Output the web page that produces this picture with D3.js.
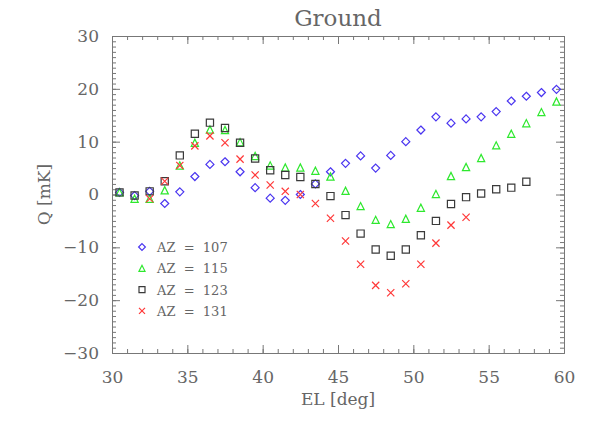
<!DOCTYPE html>
<html>
<head>
<meta charset="utf-8">
<script src="https://cdn.jsdelivr.net/npm/d3@7"></script>
<style>
  body { margin: 0; background: #fff; }
  text { font-family: "DejaVu Serif", serif; fill: #666; }
</style>
</head>
<body>
<div id="chart-area"></div>
<script>
// elevation of each sample [deg]
const EL = [30.5, 31.5, 32.5, 33.5, 34.5, 35.5, 36.5, 37.5, 38.5, 39.5,
  40.5, 41.5, 42.5, 43.5, 44.5, 45.5, 46.5, 47.5, 48.5, 49.5,
  50.5, 51.5, 52.5, 53.5, 54.5, 55.5, 56.5, 57.5, 58.5, 59.5]

// Q [mK] per azimuth, null = no point
const AZ107 = [0.4, -0.2, 0.6, -1.7, 0.5, 3.4, 5.7, 6.2, 4.3, 1.3,
  -0.7, -1.1, 0.0, 2.0, 4.3, 5.9, 7.3, 5.0, 7.4, 10.0,
  12.2, 14.7, 13.5, 14.3, 14.7, 15.7, 17.7, 18.6, 19.3, 19.9]
const AZ115 = [0.4, -0.8, -0.8, 0.8, 5.5, 9.8, 12.3, 12.2, 9.9, 7.3,
  5.5, 5.1, 5.1, 4.5, 3.4, 0.7, -2.2, -4.8, -5.6, -4.6,
  -2.5, 0.1, 3.5, 5.2, 6.9, 9.3, 11.5, 13.5, 15.6, 17.6]
const AZ123 = [0.4, -0.2, 0.6, 2.5, 7.4, 11.5, 13.6, 12.6, 9.8, 6.8,
  4.6, 3.7, 3.3, 2.0, -0.3, -3.9, -7.4, -10.4, -11.6, -10.4,
  -7.7, -5.0, -1.8, -0.5, 0.2, 1.0, 1.3, 2.4, null, null]
const AZ131 = [null, null, -0.8, 2.5, 5.5, 9.2, 11.1, 9.8, 6.7, 3.7,
  1.8, 0.6, 0.0, -1.7, -4.5, -8.8, -13.2, -17.2, -18.6, -16.9,
  -13.2, -9.2, -5.8, -4.3, null, null, null, null, null, null]

const xTicks = [30, 35, 40, 45, 50, 55, 60]
const yTicks = [-30, -20, -10, 0, 10, 20, 30]

const series = [
  { name: "AZ = 107", values: AZ107, shape: "diamond", color: "#4a35f0" },
  { name: "AZ = 115", values: AZ115, shape: "triangle", color: "#2ee82e" },
  { name: "AZ = 123", values: AZ123, shape: "square", color: "#3a3a3a" },
  { name: "AZ = 131", values: AZ131, shape: "cross", color: "#ff3838" }
]

const MARGIN = { LEFT: 112, RIGHT: 34, TOP: 36, BOTTOM: 74 }
const WIDTH = 598 - MARGIN.LEFT - MARGIN.RIGHT
const HEIGHT = 427 - MARGIN.TOP - MARGIN.BOTTOM

const svg = d3.select("#chart-area").append("svg")
  .attr("width", 598)
  .attr("height", 427)

const g = svg.append("g")
  .attr("transform", `translate(${MARGIN.LEFT}, ${MARGIN.TOP})`)

const x = d3.scaleLinear().domain([30, 60]).range([0, WIDTH])
const y = d3.scaleLinear().domain([-30, 30]).range([HEIGHT, 0])

// marker outline paths, r = half size
function marker(shape, r) {
  if (shape === "diamond") return `M0,${-r}L${r},0L0,${r}L${-r},0Z`
  if (shape === "square") return `M${-r},${-r}H${r}V${r}H${-r}Z`
  if (shape === "triangle") return `M${-r},${r}L0,${-r}L${r},${r}Z`
  return `M${-r},${-r}L${r},${r}M${-r},${r}L${r},${-r}`
}

const AXIS_COLOR = "#777"
const fmt = d => (d < 0 ? "\u2212" + Math.abs(d) : String(d))

function styleAxis(sel) {
  sel.select(".domain").attr("stroke", AXIS_COLOR)
  sel.selectAll(".tick line").attr("stroke", AXIS_COLOR)
  sel.selectAll("text").attr("fill", "#666").attr("font-size", "17px")
    .attr("font-family", "DejaVu Serif, serif")
}

// minor ticks
const minorX = d3.range(30, 61)
const minorY = d3.range(-30, 31)
g.append("g").attr("transform", `translate(0, ${HEIGHT})`)
  .call(d3.axisBottom(x).tickValues(minorX).tickSize(-4).tickSizeOuter(0).tickFormat(""))
  .call(styleAxis)
g.append("g")
  .call(d3.axisTop(x).tickValues(minorX).tickSize(-4).tickSizeOuter(0).tickFormat(""))
  .call(styleAxis)
g.append("g")
  .call(d3.axisLeft(y).tickValues(minorY).tickSize(-4).tickSizeOuter(0).tickFormat(""))
  .call(styleAxis)
g.append("g").attr("transform", `translate(${WIDTH}, 0)`)
  .call(d3.axisRight(y).tickValues(minorY).tickSize(-4).tickSizeOuter(0).tickFormat(""))
  .call(styleAxis)

// major ticks
g.append("g").attr("transform", `translate(0, ${HEIGHT})`)
  .call(d3.axisBottom(x).tickValues(xTicks).tickSize(-8).tickSizeOuter(0).tickPadding(18).tickFormat(fmt))
  .call(styleAxis)
g.append("g")
  .call(d3.axisTop(x).tickValues(xTicks).tickSize(-8).tickSizeOuter(0).tickFormat(""))
  .call(styleAxis)
g.append("g")
  .call(d3.axisLeft(y).tickValues(yTicks).tickSize(-8).tickSizeOuter(0).tickPadding(13).tickFormat(fmt))
  .call(styleAxis)
g.append("g").attr("transform", `translate(${WIDTH}, 0)`)
  .call(d3.axisRight(y).tickValues(yTicks).tickSize(-8).tickSizeOuter(0).tickFormat(""))
  .call(styleAxis)

// Labels
svg.append("text")
  .attr("x", MARGIN.LEFT + WIDTH / 2)
  .attr("y", 26)
  .attr("text-anchor", "middle")
  .attr("font-size", "23px")
  .text("Ground")
svg.append("text")
  .attr("x", MARGIN.LEFT + WIDTH / 2)
  .attr("y", 405)
  .attr("text-anchor", "middle")
  .attr("font-size", "17px")
  .text("EL [deg]")
svg.append("text")
  .attr("transform", `translate(50, ${MARGIN.TOP + HEIGHT / 2}) rotate(-90)`)
  .attr("text-anchor", "middle")
  .attr("font-size", "17px")
  .text("Q [mK]")

// Points
series.forEach(s => {
  const pts = EL.map((el, i) => ({ el, q: s.values[i] })).filter(d => d.q !== null)
  g.append("g").selectAll("path")
    .data(pts)
    .enter().append("path")
    .attr("transform", d => `translate(${x(d.el)}, ${y(d.q)})`)
    .attr("d", marker(s.shape, s.shape === "diamond" ? 4 : 3.6))
    .attr("fill", "none")
    .attr("stroke", s.color)
    .attr("stroke-width", 1.2)
})

// Legend
const legend = svg.append("g").attr("transform", "translate(142, 247)")
series.forEach((s, i) => {
  const row = legend.append("g").attr("transform", `translate(0, ${i * 21.3})`)
  row.append("path")
    .attr("d", marker(s.shape, s.shape === "diamond" ? 3.4 : 3))
    .attr("fill", "none")
    .attr("stroke", s.color)
    .attr("stroke-width", 1.2)
  row.append("text")
    .attr("x", 15)
    .attr("y", 5)
    .attr("font-size", "13px")
    .attr("xml:space", "preserve")
    .text(s.name.replace(" = ", "  =  "))
})
</script>
</body>
</html>
